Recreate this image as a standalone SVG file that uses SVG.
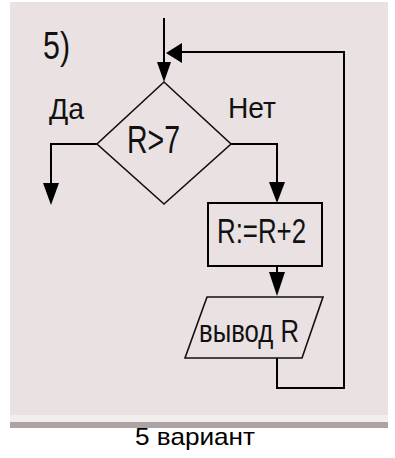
<svg xmlns="http://www.w3.org/2000/svg" width="395" height="458" viewBox="0 0 395 458">
<defs>
<style>
.ln{fill:none;stroke:#000;stroke-width:2}
.sh{fill:none;stroke:#111;stroke-width:1.6}
.ah{fill:#000}
.t{font-family:"Liberation Sans",Arial,sans-serif;fill:#111}
</style>
</defs>
<rect x="0" y="0" width="395" height="458" fill="#fff"/>
<rect x="10" y="2" width="378" height="413" fill="#E9E1E2"/>
<rect x="10" y="415" width="378" height="7" fill="#F3EEEE"/>
<rect x="10" y="422" width="378" height="6" fill="#ACA4A4"/>
<text class="t" x="43" y="59" font-size="39" textLength="27" lengthAdjust="spacingAndGlyphs">5)</text>
<g id="connectors">
<path class="ln" d="M164,18 V64"/>
<polygon class="ah" points="157,62 171,62 164,82"/>
<path class="ln" d="M277,358 V388 H344 V52 H180"/>
<polygon class="ah" points="166,53 182,43 182,63"/>
<path class="ln" d="M97,144 H51 V185"/>
<polygon class="ah" points="43,183 59,183 51,205"/>
<path class="ln" d="M231,144 H277 V185"/>
<polygon class="ah" points="269,182 285,182 277,203"/>
<path class="ln" d="M277,266 V274"/>
<polygon class="ah" points="269,272 285,272 277,296"/>
</g>
<g id="decision">
<polygon class="sh" points="164,82 231,144 164,204 97,144"/>
<text class="t" x="127" y="153" font-size="39" textLength="53" lengthAdjust="spacingAndGlyphs">R&gt;7</text>
</g>
<g id="label-yes"><text class="t" x="49" y="119" font-size="30" textLength="35" lengthAdjust="spacingAndGlyphs">Да</text></g>
<g id="label-no"><text class="t" x="228" y="118" font-size="30" textLength="48" lengthAdjust="spacingAndGlyphs">Нет</text></g>
<g id="process">
<rect class="ln" x="208" y="203" width="114" height="63"/>
<text class="t" x="217" y="243" font-size="35" textLength="89" lengthAdjust="spacingAndGlyphs">R:=R+2</text>
</g>
<g id="output">
<polygon class="sh" points="207,297 323,297 302,358 185,358"/>
<text class="t" x="199" y="342" font-size="32" textLength="100" lengthAdjust="spacingAndGlyphs">вывод R</text>
</g>
<text x="195" y="445" font-family="Liberation Sans, Arial, sans-serif" font-size="24" text-anchor="middle" textLength="120" lengthAdjust="spacingAndGlyphs" fill="#000">5 вариант</text>
</svg>
